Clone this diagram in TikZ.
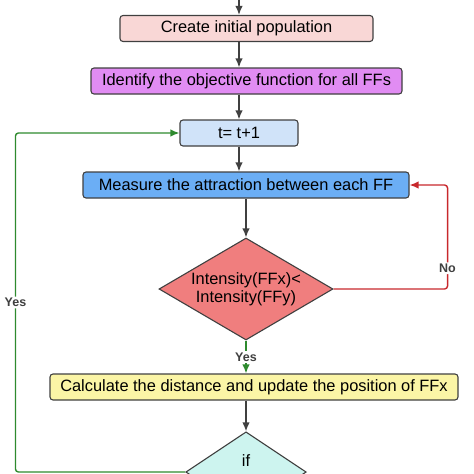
\documentclass[tikz,border=0pt]{standalone}
\usepackage{fontspec}
\setmainfont{Liberation Sans}
\usetikzlibrary{arrows.meta,positioning,shapes.geometric}
\definecolor{FlowGray}{HTML}{404040}
\definecolor{FlowPink}{HTML}{F9D7D6}
\definecolor{FlowViolet}{HTML}{E18CF3}
\definecolor{FlowSky}{HTML}{D0E3F9}
\definecolor{FlowBlue}{HTML}{6BAEF5}
\definecolor{FlowCoral}{HTML}{F07E7E}
\definecolor{FlowYellow}{HTML}{FBF5A6}
\definecolor{FlowAqua}{HTML}{CDF4EF}
\definecolor{FlowRed}{HTML}{C8282C}
\definecolor{FlowGreen}{HTML}{2E8A2E}
\tikzset{
  flowarrow/.style={-{Latex[length=9pt,width=7.5pt]},line width=1.4pt,draw=FlowGray},
  noarrow/.style={flowarrow,draw=FlowRed,rounded corners=3pt},
  yesarrow/.style={flowarrow,draw=FlowGreen,rounded corners=3pt},
  procbox/.style={draw=FlowGray,line width=1.1pt,rounded corners=3pt,minimum height=26pt,inner sep=0pt,font=\fontsize{16.4}{19}\selectfont},
  decision/.style={diamond,draw=FlowGray,line width=1.1pt,inner sep=0pt,align=center,font=\fontsize{16.4}{18}\selectfont},
  branchlabel/.style={fill=white,inner sep=1.5pt,font=\fontsize{12.5}{14}\selectfont\bfseries,text=FlowGray}
}

\begin{document}
\begin{tikzpicture}[x=1pt,y=-1pt]
  \useasboundingbox (0,0) rectangle (474,474);
  \clip (0,0) rectangle (474,474);
  % main column
  \node[procbox,fill=FlowPink,minimum width=253pt] (init) at (246.5,28.5) {Create initial population};
  \node[procbox,fill=FlowViolet,minimum width=311pt] (objective) at (246.5,81) {Identify the objective function for all FFs};
  \node[procbox,fill=FlowSky,minimum width=118pt] (incr) at (239,133) {t= t+1};
  \node[procbox,fill=FlowBlue,minimum width=326pt] (measure) at (246,185) {Measure the attraction between each FF};
  \node[decision,fill=FlowCoral,shape aspect=1.7,minimum width=174pt,minimum height=102pt] (test) at (246,289) {Intensity(FFx)<\\Intensity(FFy)};
  \node[procbox,fill=FlowYellow,minimum width=408pt] (update) at (254,387) {Calculate the distance and update the position of FFx};
  \node[decision,fill=FlowAqua,shape aspect=1.5,minimum width=116pt,minimum height=76pt,font=\fontsize{16.4}{23}\selectfont] (check) at (246,472) {if\\t<maxiter};
  \coordinate (entry) at (239,-5);

  % arrows
  \draw[flowarrow] (entry) -- (entry |- init.north);
  \draw[flowarrow] (init.south -| incr) -- (objective.north -| incr);
  \draw[flowarrow] (objective.south -| incr) -- (incr.north);
  \draw[flowarrow] (incr.south) -- (measure.north -| incr);
  \draw[flowarrow] (measure.south -| test) -- (test.north);
  \draw[flowarrow] (update.south -| test) -- (check.north);

  % branches
  \draw[noarrow] (test.east) -| node[branchlabel,pos=0.6] {No} ([xshift=38pt]measure.east) -- (measure.east);
  \draw[yesarrow] (test.south) -- node[branchlabel] {Yes} (test.south |- update.north);
  \draw[yesarrow] (check.west) -| node[branchlabel,pos=0.75] {Yes} ([xshift=-164pt]incr.west) -- (incr.west);
\end{tikzpicture}
\end{document}
